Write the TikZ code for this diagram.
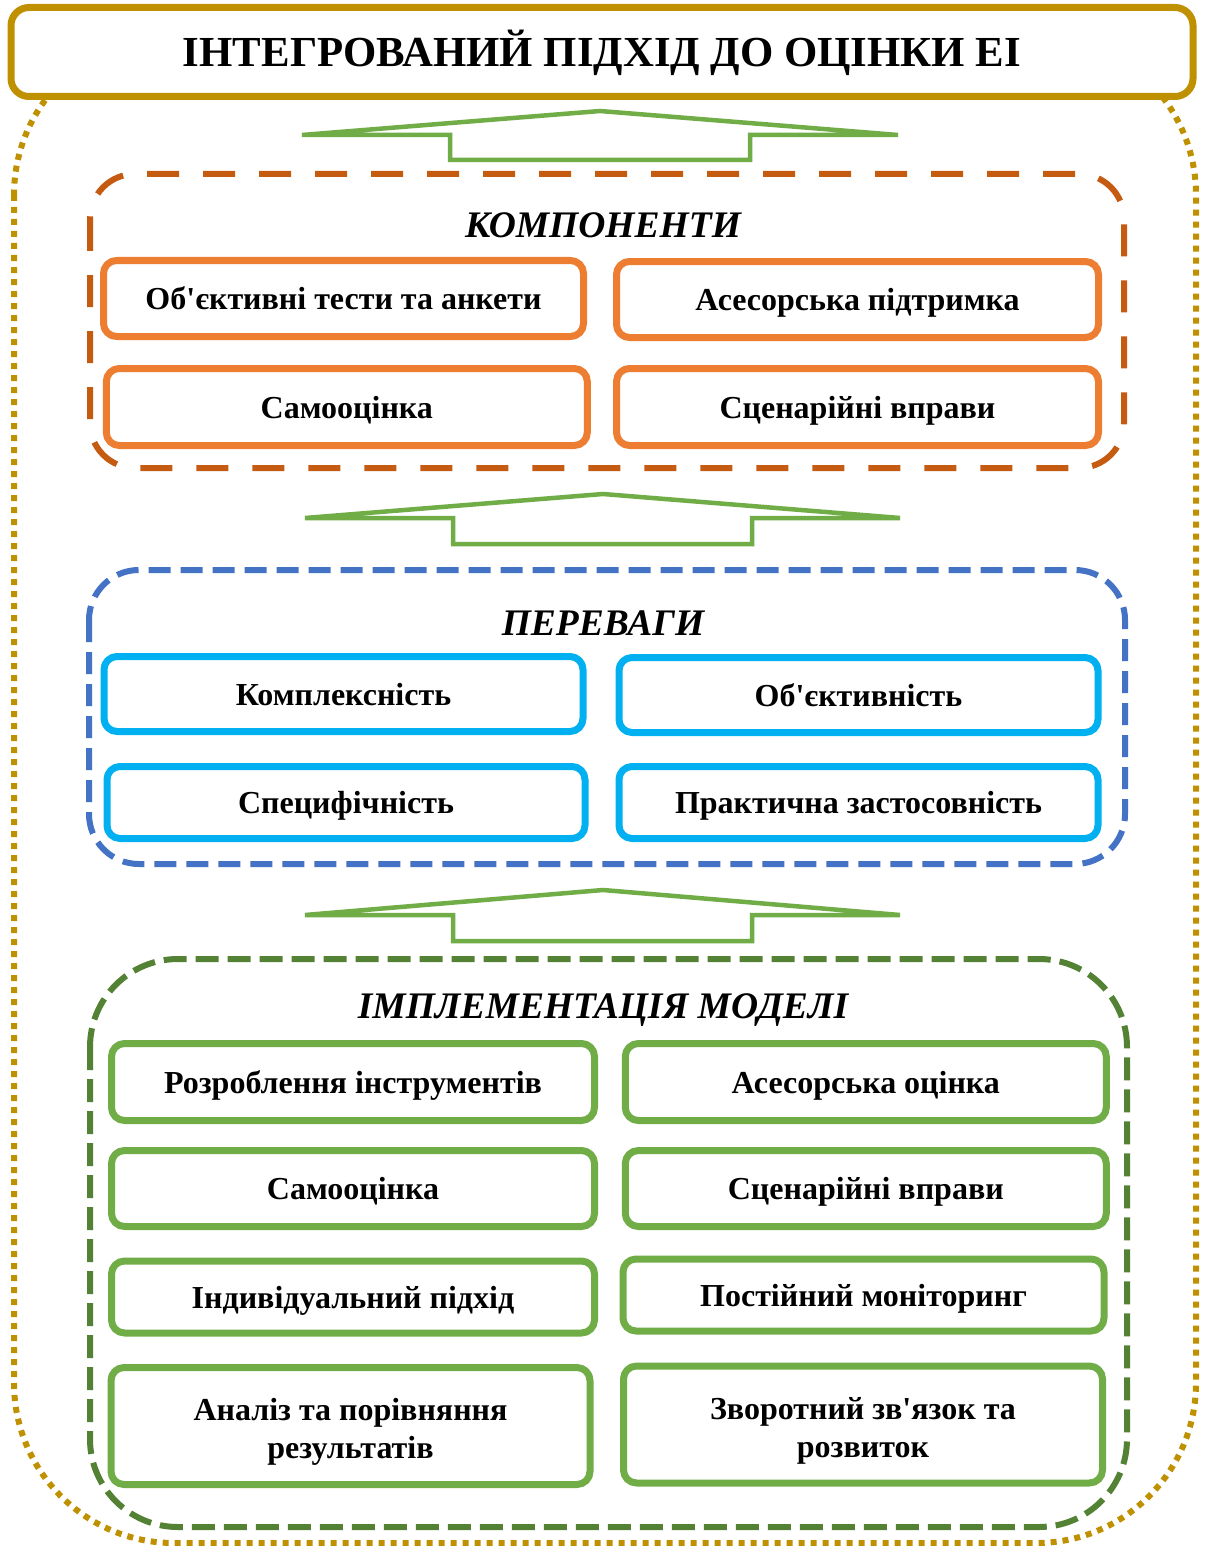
\documentclass[tikz,border=0pt]{standalone}
\usepackage{fontspec}
\setmainfont{Liberation Serif}[Ligatures=TeXOff]
\definecolor{gold}{HTML}{BF9000}
\definecolor{orD}{HTML}{C55A11}
\definecolor{orL}{HTML}{ED7D31}
\definecolor{blD}{HTML}{4472C4}
\definecolor{cyL}{HTML}{00B0F0}
\definecolor{grD}{HTML}{548235}
\definecolor{grL}{HTML}{70AD47}
\begin{document}
\begin{tikzpicture}[x=1pt,y=-1pt,line join=round]
\tikzset{
  lbl/.style={font=\fontsize{32}{38}\selectfont\bfseries, align=center, text=black, inner sep=0pt},
  sectitle/.style={font=\fontsize{37.5}{41}\selectfont\bfseries\itshape, anchor=base, inner sep=0pt},
  ibox/.style={rounded corners=13pt, line width=7pt, fill=white, inner sep=0pt, lbl, text height=22pt, text depth=0pt},
  obox/.style={ibox, draw=orL},
  cbox/.style={ibox, draw=cyL},
  gbox/.style={ibox, draw=grL},
  bigbox/.style={line width=6pt},
  uparrow/.style={draw=grL, line width=4.5pt, line join=miter, fill=white},
}
\useasboundingbox (0,0) rectangle (1204,1546);
\fill[white] (0,0) rectangle (1204,1546);

% outer dotted loop
\draw[gold, line width=6pt, dash pattern=on 6pt off 6pt, rounded corners=160pt] (14,35) rectangle (1196,1543);

% title
\node[draw=gold, line width=7pt, rounded corners=18pt, fill=white, minimum width=1182pt, minimum height=89pt,
      font=\fontsize{42.8}{46}\selectfont\bfseries, text height=29pt, text depth=0pt, inner sep=0pt] (title) at (602,52)
      {ІНТЕГРОВАНИЙ ПІДХІД ДО ОЦІНКИ ЕІ};

% arrows
\draw[uparrow] (302,135) -- (600,111) -- (898,135) -- (750,135) -- (750,160) -- (450,160) -- (450,135) -- cycle;
\draw[uparrow] (305,518) -- (603,494) -- (900,518) -- (752,518) -- (752,544) -- (453,544) -- (453,518) -- cycle;
\draw[uparrow] (305,915) -- (603,890) -- (900,915) -- (752,915) -- (752,941) -- (453,941) -- (453,915) -- cycle;

% components
\draw[bigbox, orD, dash pattern=on 32pt off 24pt, rounded corners=45pt] (90,174) rectangle (1124,468);
\node[sectitle] (compT) at (603,237) {КОМПОНЕНТИ};
\node[obox, minimum width=480pt, minimum height=76pt] (c1) at (343.5,298.5) {Об'єктивні тести та анкети};
\node[obox, minimum width=482pt, minimum height=76pt] (c2) at (857.5,299.5) {Асесорська підтримка};
\node[obox, minimum width=481pt, minimum height=77pt] (c3) at (346.8,407) {Самооцінка};
\node[obox, minimum width=482pt, minimum height=77pt] (c4) at (857.5,407) {Сценарійні вправи};

% benefits
\draw[bigbox, blD, dash pattern=on 22pt off 10pt, rounded corners=50pt] (89,570) rectangle (1125,864);
\node[sectitle] (benT) at (603,635) {ПЕРЕВАГИ};
\node[cbox, minimum width=479pt, minimum height=75pt] (b1) at (343.5,694) {Комплексність};
\node[cbox, minimum width=479pt, minimum height=75pt] (b2) at (858.5,695) {Об'єктивність};
\node[cbox, minimum width=478pt, minimum height=72pt] (b3) at (346,802.5) {Специфічність};
\node[cbox, minimum width=479pt, minimum height=72pt] (b4) at (858.5,802.5) {Практична застосовність};

% implementation
\draw[bigbox, grD, dash pattern=on 23pt off 9pt, rounded corners=88pt] (90,959) rectangle (1127,1527);
\node[sectitle] (impT) at (603,1018) {ІМПЛЕМЕНТАЦІЯ МОДЕЛІ};
\node[gbox, minimum width=483pt, minimum height=77pt] (g1) at (353,1082) {Розроблення інструментів};
\node[gbox, minimum width=481pt, minimum height=77pt] (g2) at (865.8,1082) {Асесорська оцінка};
\node[gbox, minimum width=483pt, minimum height=76pt] (g3) at (353,1188.5) {Самооцінка};
\node[gbox, minimum width=481pt, minimum height=76pt] (g4) at (865.8,1188.5) {Сценарійні вправи};
\node[gbox, minimum width=483pt, minimum height=72pt] (g5) at (353,1297) {Індивідуальний підхід};
\node[gbox, minimum width=481pt, minimum height=72pt] (g6) at (863.5,1295) {Постійний моніторинг};
\node[gbox, minimum width=479pt, minimum height=117pt] (g7) at (350.5,1426) {};
\node[gbox, minimum width=479pt, minimum height=117pt] (g8) at (863,1424.5) {};
\node[lbl] (g7t) at ([yshift=-6pt]g7.center) {Аналіз та порівняння\\результатів};
\node[lbl] (g8t) at ([yshift=-6pt]g8.center) {Зворотний зв'язок та\\розвиток};
\end{tikzpicture}
\end{document}
